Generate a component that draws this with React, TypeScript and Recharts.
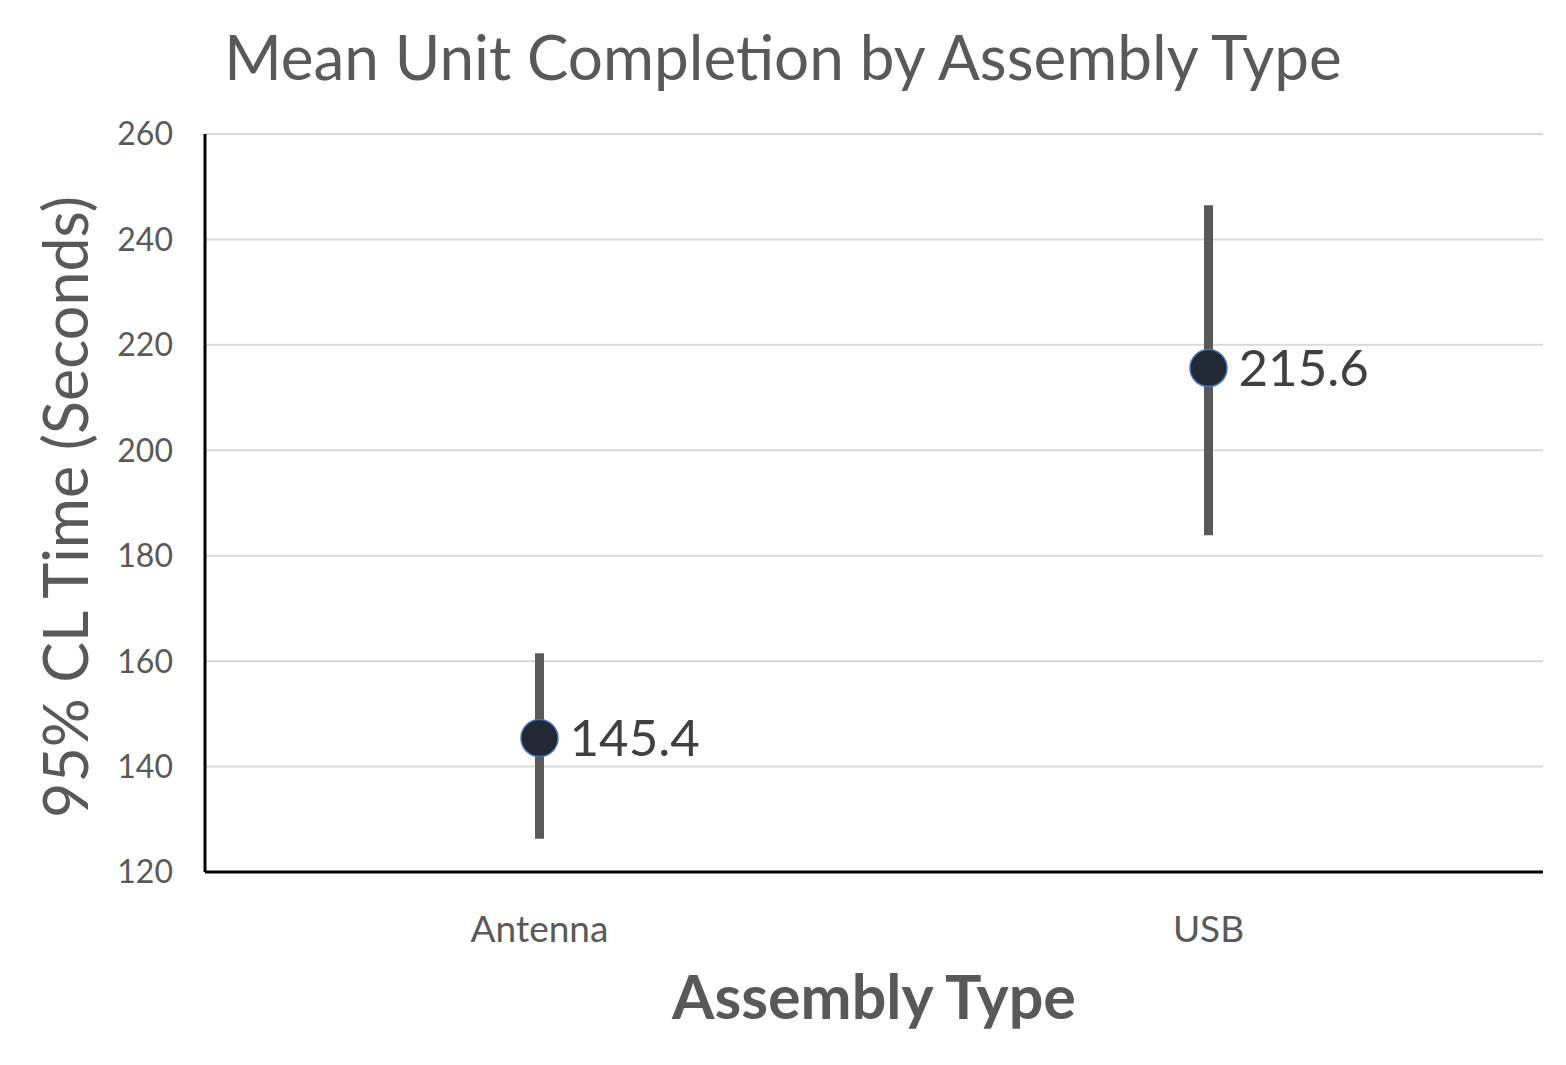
import React from "react";
import {
  ComposedChart,
  Line,
  XAxis,
  YAxis,
  CartesianGrid,
  ErrorBar,
  LabelList,
} from "recharts";

const categories = ["Antenna", "USB"];
const means = [145.4, 215.6];
const lowerCL = [126.3, 183.9];
const upperCL = [161.5, 246.5];
const yTicks = [120, 140, 160, 180, 200, 220, 240, 260];

const data = categories.map((c, i) => ({
  name: c,
  mean: means[i],
  err: [means[i] - lowerCL[i], upperCL[i] - means[i]],
}));

const FONT = "Lato, 'Open Sans', sans-serif";
const GREY = "#595959";

const Dot = (props: any) => {
  const { cx, cy } = props;
  if (cx == null || cy == null) return null;
  return <circle cx={cx} cy={cy} r={18.5} fill="#212934" stroke="#4472c4" strokeWidth={1.5} />;
};

export default function App() {
  return (
    <div style={{ position: "absolute", left: 0, top: 0, width: 1566, height: 1065, background: "#fff" }}>
      <ComposedChart
        width={1566}
        height={1065}
        data={data}
        margin={{ top: 134, right: 23, bottom: 193 - 140, left: 205 - 100 }}
      >
        <text x={783} y={80} textAnchor="middle" fontFamily={FONT} fontSize={62} fill={GREY}>
          Mean Unit Completion by Assembly Type
        </text>
        <CartesianGrid horizontal vertical={false} stroke="#d9d9d9" strokeWidth={2} />
        <XAxis
          dataKey="name"
          height={140}
          padding={{ left: 334.5, right: 334.5 }}
          axisLine={{ stroke: "#000", strokeWidth: 3 }}
          tickLine={false}
          tick={{ fontFamily: FONT, fontSize: 37, fill: GREY }}
          dy={36}
          label={{
            value: "Assembly Type",
            position: "insideTop",
            dy: 99,
            style: { fontFamily: FONT, fontSize: 61, fontWeight: 700, fill: GREY },
          }}
        />
        <YAxis
          type="number"
          width={100}
          domain={[120, 260]}
          ticks={yTicks}
          interval={0}
          axisLine={{ stroke: "#000", strokeWidth: 3 }}
          tickLine={false}
          tick={{ fontFamily: FONT, fontSize: 32, fill: GREY }}
          dx={-24}
          label={{
            value: "95% CL Time (Seconds)",
            angle: -90,
            position: "insideLeft",
            dx: -44,
            dy: 4,
            style: { fontFamily: FONT, fontSize: 61, fill: GREY, textAnchor: "middle" },
          }}
        />
        <Line
          dataKey="mean"
          stroke="none"
          isAnimationActive={false}
          dot={<Dot />}
          activeDot={false}
        >
          <ErrorBar dataKey="err" width={0} stroke={GREY} strokeWidth={9} direction="y" />
          <LabelList
            dataKey="mean"
            position="right"
            offset={30}
            style={{ fontFamily: FONT, fontSize: 51, fill: "#404040" }}
          />
        </Line>
      </ComposedChart>
    </div>
  );
}
